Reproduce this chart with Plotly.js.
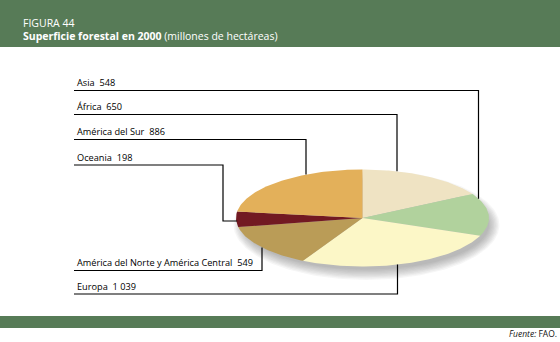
<!DOCTYPE html>
<html>
<head>
<meta charset="utf-8">
<script src="https://cdn.plot.ly/plotly-3.0.1.min.js"></script>
<style>
  html, body { margin: 0; padding: 0; background: #ffffff; }
  #chart { width: 560px; height: 342px; }
</style>
</head>
<body>
<div id="chart"></div>
<script>
// ---- data (clockwise from 12 o'clock) ----
const regions = ["África", "Asia", "Europa", "América del Norte y América Central", "Oceania", "América del Sur"];
const areas = [650, 548, 1039, 549, 198, 886];
const areaLabels = ["650", "548", "1 039", "549", "198", "886"];
const sliceColors = ["#EFE3C3", "#B1D29D", "#FCF7C7", "#BA9C57", "#721922", "#E3B05A"];

// ---- layout geometry (pixels) ----
const W = 560, H = 342;
const cx = 362.5, cy = 218, rx = 126.5, ry = 48.5;
const labelX = 74;
// leader settings per region (same order as regions)
const leaderY = [114.5, 90.5, 294, 270.5, 165, 139.5];
const leaderX = [397, 478.5, 397.5, 262, 223, 306];
const leaderKind = ["top", "top", "bottom", "bottom", "side", "top"];
const sideY = 221;

const total = areas.reduce((a, b) => a + b, 0);
function ept(tDeg, ox, oy, ax, ay) {
  const t = tDeg * Math.PI / 180;
  return [ox + ax * Math.sin(t), oy - ay * Math.cos(t)];
}

const traces = [];
// soft shadow
const shN = 8;
for (let k = shN; k >= 0; k--) {
  const xs = [], ys = [];
  for (let d = 0; d <= 360; d += 2) {
    const p = ept(d, cx + 4, cy + 7, rx + k * 1.3 - 4, ry + k * 1.3 - 4);
    xs.push(p[0]); ys.push(p[1]);
  }
  traces.push({x: xs, y: ys, mode: "lines", fill: "toself", line: {width: 0},
    fillcolor: "rgba(70,70,70,0.05)", hoverinfo: "skip", showlegend: false});
}

// slices
let acc = 0;
areas.forEach((v, i) => {
  const a0 = acc / total * 360;
  acc += v;
  const a1 = acc / total * 360;
  const xs = [cx], ys = [cy];
  const steps = Math.max(4, Math.ceil(a1 - a0));
  for (let s = 0; s <= steps; s++) {
    const p = ept(a0 + (a1 - a0) * s / steps, cx, cy, rx, ry);
    xs.push(p[0]); ys.push(p[1]);
  }
  xs.push(cx); ys.push(cy);
  traces.push({x: xs, y: ys, mode: "lines", fill: "toself", line: {width: 0},
    fillcolor: sliceColors[i], name: regions[i], text: regions[i] + " " + areaLabels[i],
    hoverinfo: "text", showlegend: false});
});

// leader lines
const annotations = [];
regions.forEach((r, i) => {
  const y0 = leaderY[i], xv = leaderX[i];
  const xs = [labelX, xv], ys = [y0, y0];
  const dx = (xv - cx) / rx;
  const h = ry * Math.sqrt(Math.max(0, 1 - dx * dx));
  if (leaderKind[i] === "top") { xs.push(xv); ys.push(cy - h); }
  else if (leaderKind[i] === "bottom") { xs.push(xv); ys.push(cy + h); }
  else {
    const dy = (sideY - cy) / ry;
    const xe = cx - rx * Math.sqrt(1 - dy * dy);
    xs.push(xv, xe + 1); ys.push(sideY, sideY);
  }
  traces.push({x: xs, y: ys, mode: "lines", line: {color: "#000000", width: 1.2},
    hoverinfo: "skip", showlegend: false});
  annotations.push({x: labelX + 1, y: y0 + 0.5, xref: "x", yref: "y",
    xanchor: "left", yanchor: "bottom", showarrow: false,
    text: r + "\u00a0\u00a0" + areaLabels[i],
    font: {family: "Open Sans, sans-serif", size: 9.2, color: "#000000"}});
});

annotations.push({x: 21, y: 22.5, xref: "x", yref: "y", xanchor: "left", yanchor: "middle",
  showarrow: false, text: "FIGURA 44",
  font: {family: "Open Sans, sans-serif", size: 10.5, color: "#ffffff"}});
annotations.push({x: 21, y: 35.5, xref: "x", yref: "y", xanchor: "left", yanchor: "middle",
  showarrow: false, text: "<b>Superficie forestal en 2000</b> (millones de hectáreas)",
  font: {family: "Open Sans, sans-serif", size: 10.5, color: "#ffffff"}});
annotations.push({x: 559, y: 333, xref: "x", yref: "y", xanchor: "right", yanchor: "middle",
  showarrow: false, text: "<i>Fuente:</i> FAO.",
  font: {family: "Open Sans, sans-serif", size: 8.5, color: "#111111"}});

const layout = {
  width: W, height: H,
  margin: {l: 0, r: 0, t: 0, b: 0},
  paper_bgcolor: "#ffffff", plot_bgcolor: "#ffffff",
  xaxis: {range: [0, W], visible: false, fixedrange: true},
  yaxis: {range: [H, 0], visible: false, fixedrange: true},
  showlegend: false,
  shapes: [
    {type: "rect", xref: "x", yref: "y", x0: 0, x1: W, y0: 0, y1: 47, fillcolor: "#577B57", line: {width: 0}, layer: "below"},
    {type: "rect", xref: "x", yref: "y", x0: 0, x1: W, y0: 316, y1: 328, fillcolor: "#577B57", line: {width: 0}, layer: "below"}
  ],
  annotations: annotations
};

Plotly.newPlot("chart", traces, layout, {displayModeBar: false, staticPlot: true});
</script>
</body>
</html>
